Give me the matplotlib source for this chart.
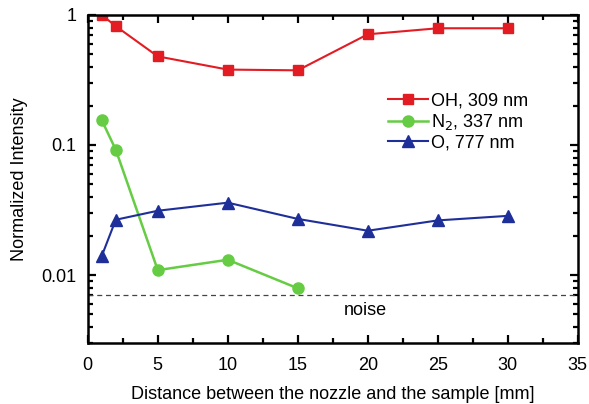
import matplotlib
matplotlib.use("Agg")
import matplotlib.pyplot as plt
from matplotlib.ticker import FixedLocator, LogLocator, NullFormatter, MultipleLocator

plt.rcParams['font.family'] = ['Liberation Sans', 'DejaVu Sans']

# Emission intensity vs nozzle-sample distance
distance_oh = [1, 2, 5, 10, 15, 20, 25, 30]
intensity_oh = [1.0, 0.82, 0.48, 0.38, 0.375, 0.71, 0.79, 0.79]

distance_n2 = [1, 2, 5, 10, 15]
intensity_n2 = [0.155, 0.092, 0.0109, 0.0131, 0.0079]

distance_o = [1, 2, 5, 10, 15, 20, 25, 30]
intensity_o = [0.014, 0.0266, 0.0312, 0.036, 0.027, 0.0219, 0.0263, 0.0285]

noise_level = 0.0070

y_ticks = [0.01, 0.1, 1]
y_tick_labels = ["0.01", "0.1", "1"]
x_ticks = [0, 5, 10, 15, 20, 25, 30, 35]

fig = plt.figure(figsize=(5.89, 4.04), dpi=100)
ax = fig.add_axes([0.149, 0.151, 0.832, 0.812])

red = "#e31b23"
green = "#66cc44"
blue = "#1f2f9a"

ax.plot(distance_oh, intensity_oh, '-s', color=red, lw=1.5, ms=7,
        label="OH, 309 nm")
ax.plot(distance_n2, intensity_n2, '-o', color=green, lw=1.8, ms=8,
        label="N$_2$, 337 nm")
ax.plot(distance_o, intensity_o, '-^', color=blue, lw=1.5, ms=8,
        label="O, 777 nm")

ax.axhline(noise_level, color="#444444", lw=0.9, ls=(0, (4, 3)))
ax.text(19.8, 0.0053, "noise", ha="center", va="center", fontsize=13)

ax.set_yscale("log")
ax.set_xlim(0, 35)
ax.set_ylim(0.003, 1)

ax.xaxis.set_major_locator(FixedLocator(x_ticks))
ax.xaxis.set_minor_locator(MultipleLocator(2.5))
ax.yaxis.set_major_locator(FixedLocator(y_ticks))
ax.set_yticklabels(y_tick_labels)
ax.yaxis.set_minor_locator(LogLocator(base=10, subs=range(2, 10)))
ax.yaxis.set_minor_formatter(NullFormatter())

ax.tick_params(which="both", direction="in", top=True, right=True,
               labelsize=13, width=1.6)
ax.tick_params(which="major", length=6)
ax.tick_params(axis="x", which="major", pad=10)
ax.tick_params(axis="y", which="major", pad=8)
ax.tick_params(which="minor", length=3.5)
for s in ax.spines.values():
    s.set_linewidth(1.8)

ax.set_xlabel("Distance between the nozzle and the sample [mm]", fontsize=13,
              labelpad=9)
ax.set_ylabel("Normalized Intensity", fontsize=13, labelpad=10)

ax.legend(loc="upper left", bbox_to_anchor=(0.598, 0.785), frameon=False,
          fontsize=13, handlelength=2.2, handletextpad=0.2, labelspacing=0.12,
          borderaxespad=0)

fig.savefig("out.png", dpi=100)
